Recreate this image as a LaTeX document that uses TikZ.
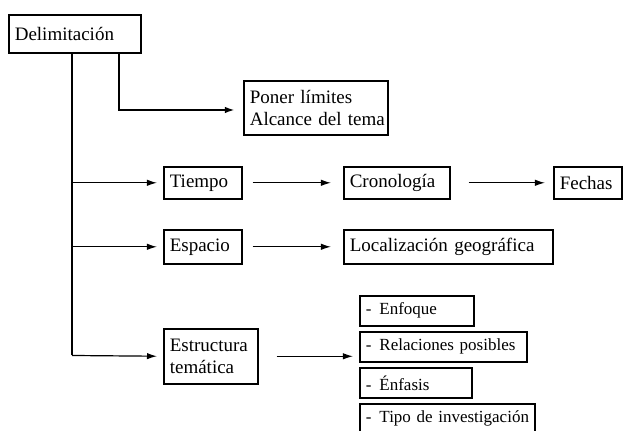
\documentclass[tikz,border=0pt]{standalone}
\usepackage{fontspec}
\setmainfont{Liberation Serif}
\usepackage{tikz}
\usetikzlibrary{arrows.meta}

\begin{document}
\begin{tikzpicture}[x=0.5pt,y=-0.5pt,>={Latex[length=5pt,width=3.2pt]},
    font=\fontsize{9.5}{11}\selectfont,
    caja/.style={draw,thick,inner xsep=3pt,inner ysep=0pt,align=left,anchor=north west},
    item/.style={caja,font=\fontsize{8.5}{10}\selectfont,minimum height=15pt},
    rama/.style={->,semithick,shorten >=3pt}]
  \useasboundingbox (0,0) rectangle (629,431);
  % cajas
  \node[caja,text width=60pt,minimum height=19pt] (delim) at (8,14) {\mbox{Delimitación}};
  \node[caja,text width=66pt,minimum height=27pt] (poner) at (243,80)
    {\mbox{Poner límites}\\\mbox{Alcance del tema}};
  \node[caja,text width=33pt,minimum height=16pt] (tiempo) at (163,166) {\mbox{Tiempo}};
  \node[caja,text width=47pt,minimum height=16pt] (crono) at (343,166) {\mbox{Cronología}};
  \node[caja,text width=28pt,minimum height=16pt] (fechas) at (553,166) {\mbox{Fechas}};
  \node[caja,text width=33pt,minimum height=17pt] (espacio) at (163,229) {\mbox{Espacio}};
  \node[caja,text width=98.5pt,minimum height=17pt] (local) at (343,229) {\mbox{Localización geográfica}};
  \node[caja,text width=41pt,minimum height=27.5pt] (estruct) at (163,328)
    {\mbox{Estructura}\\\mbox{temática}};
  \node[item,text width=51pt] (enfoque) at (359,295) {\mbox{-\hspace{4pt}Enfoque}};
  \node[item,text width=77.5pt] (relac) at (359,331) {\mbox{-\hspace{4pt}Relaciones posibles}};
  \node[item,text width=50pt] (enfasis) at (359,367) {\mbox{-\hspace{4pt}Énfasis}};
  \node[item,text width=81.5pt] (tipo) at (359,403) {\mbox{-\hspace{4pt}Tipo de investigación}};
  % tronco principal
  \coordinate (t1) at (72,290);
  \coordinate (t2) at (72,355.5);
  \coordinate (codo) at (119,110);
  \draw[very thick] (delim.south -| t1) -- (t1);
  \draw[semithick] (t1) -- (t2);
  \draw[very thick,->,shorten >=4pt] (delim.south -| codo) -- (codo) -- (codo -| poner.west);
  % ramas
  \draw[rama] (tiempo.west -| t1) -- (tiempo.west);
  \draw[rama] (espacio.west -| t1) -- (espacio.west);
  \draw[rama] (t2) -- (estruct.west);
  \draw[rama,shorten <=5pt,shorten >=6pt] (tiempo.east) -- (crono.west);
  \draw[rama,shorten <=9pt,shorten >=4pt] (crono.east) -- (fechas.west);
  \draw[rama,shorten <=5pt,shorten >=6pt] (espacio.east) -- (local.west);
  \draw[rama,shorten <=9pt] (estruct.east) -- (estruct.east -| relac.west);
\end{tikzpicture}
\end{document}
